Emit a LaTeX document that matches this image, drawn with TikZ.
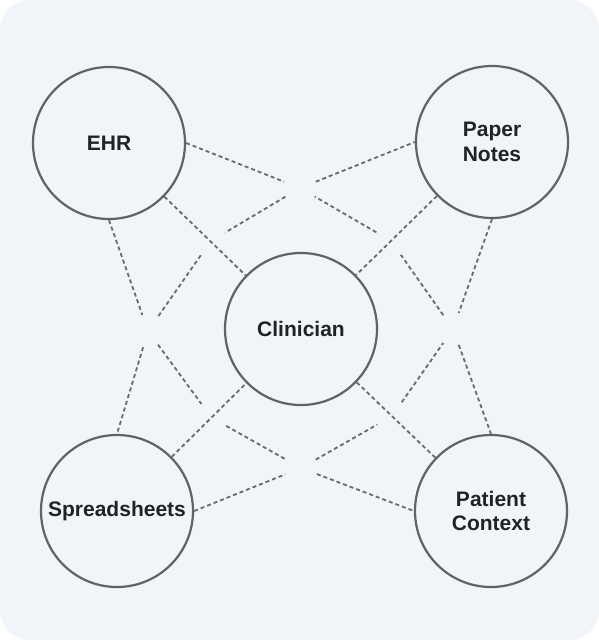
\documentclass[tikz,border=0pt]{standalone}
\usepackage{fontspec}
\setmainfont{Liberation Sans}
\usetikzlibrary{calc}
\definecolor{bg}{HTML}{F1F4F8}
\definecolor{ringc}{HTML}{5F6368}
\definecolor{dashc}{HTML}{666B72}
\definecolor{txt}{HTML}{1F2328}
\begin{document}
\begin{tikzpicture}[x=1pt,y=-1pt,
  bubble/.style={circle, draw=ringc, line width=2.2pt, fill=bg, minimum size=152pt,
    inner sep=0pt, font=\fontsize{21}{24.5}\selectfont\bfseries, text=txt, align=center},
  dl/.style={draw=dashc, line width=1.8pt, dash pattern=on 4pt off 3pt},
  gap/.style={shorten <=17pt, shorten >=17pt},
  gapend/.style={shorten >=17pt},
  gapstart/.style={shorten <=17pt},
]
\useasboundingbox (0,0) rectangle (599,640);
\fill[white] (0,0) rectangle (599,640);
\fill[bg, rounded corners=30pt] (0,0) rectangle (599,640);

% nodes
\node[bubble] (E) at (109,143) {EHR};
\node[bubble] (P) at (492,142) {Paper\\Notes};
\node[bubble] (C) at (301,329) {Clinician};
\node[bubble] (S) at (117,511) {Spreadsheets};
\node[bubble] (T) at (491,511) {Patient\\Context};

% hubs
\coordinate (Ht) at (300,188);
\coordinate (Hb) at (301,468);
\coordinate (Hl) at (148,331);
\coordinate (Hr) at (453,329);

% ring crossing points on the centre lines
\coordinate (X1) at ($(C)!126pt!(E)$);
\coordinate (X2) at ($(C)!126pt!(P)$);
\coordinate (X3) at ($(C)!126pt!(S)$);
\coordinate (X4) at ($(C)!126pt!(T)$);

% centre connections
\draw[dl] (E) -- (C);
\draw[dl] (P) -- (C);
\draw[dl] (S) -- (C);
\draw[dl] (T) -- (C);

% outer connections through hubs
\draw[dl, gapend] (E.east) -- (Ht);
\draw[dl, gapstart] (Ht) -- (P.west);
\draw[dl, gapend] (E.south) -- (Hl);
\draw[dl, gapstart] (Hl) -- (S.north);
\draw[dl, gapend] (P.south) -- (Hr);
\draw[dl, gapstart] (Hr) -- (T.north);
\draw[dl, gapend] (S.east) -- (Hb);
\draw[dl, gapstart] (Hb) -- (T.west);

% inner ring
\draw[dl, gap] (Ht) -- (X1);
\draw[dl, gap] (X1) -- (Hl);
\draw[dl, gap] (Hl) -- (X3);
\draw[dl, gap] (X3) -- (Hb);
\draw[dl, gap] (Hb) -- (X4);
\draw[dl, gap] (X4) -- (Hr);
\draw[dl, gap] (Hr) -- (X2);
\draw[dl, gap] (X2) -- (Ht);
\end{tikzpicture}
\end{document}
